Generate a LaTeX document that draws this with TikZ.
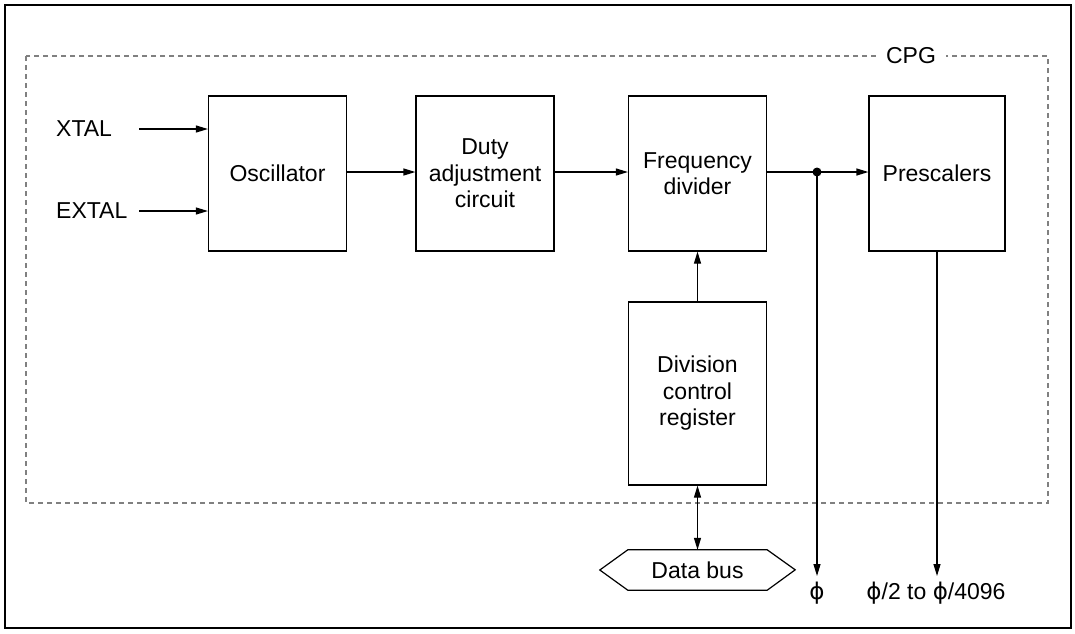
\documentclass[tikz,border=0pt]{standalone}
\usepackage{fontspec}
\setmainfont{Liberation Sans}
\newfontfamily\phifont{DejaVu Sans}
\usetikzlibrary{arrows.meta,shapes.geometric}
\newcommand{\ph}{{\phifont\char"03D5}}
\begin{document}
\begin{tikzpicture}[x=1pt,y=-1pt,
  blk/.style={draw,line width=1.2pt,minimum width=138pt,align=center,font=\fontsize{23}{26.5}\selectfont,inner sep=0pt},
  lbl/.style={font=\fontsize{23}{26.5}\selectfont,inner sep=0pt},
  arr/.style={line width=1.2pt,-{Triangle[length=12pt,width=7pt]}},
  darr/.style={line width=1.2pt,{Triangle[length=12pt,width=7pt]}-{Triangle[length=12pt,width=7pt]}}]
\useasboundingbox (0,0) rectangle (1075,633);
\fill[white] (0,0) rectangle (1075,633);
\draw[line width=2.2pt] (5,5) rectangle (1071,628);
\draw[gray,line width=1.5pt,dash pattern=on 5pt off 4pt] (26,56) rectangle (1048,503);
\node[lbl,fill=white,inner xsep=10pt,inner ysep=2pt] (cpg) at (911,56) {CPG};
% blocks
\node[blk,minimum height=155pt] (osc) at (277.5,173.5) {Oscillator};
\node[blk,minimum height=155pt] (duty) at (485,173.5) {Duty\\adjustment\\circuit};
\node[blk,minimum height=155pt] (freq) at (697.5,173.5) {Frequency\\divider};
\node[blk,minimum height=155pt,minimum width=136pt] (pre) at (937,173.5) {Prescalers};
\node[blk,minimum height=183pt] (div) at (697.5,393.5) {Division\\control\\register};
% inputs
\node[lbl,anchor=west] (xtal) at (56,129) {XTAL};
\node[lbl,anchor=west] (extal) at (56,211) {EXTAL};
\coordinate (xs) at (139,129);
\coordinate (es) at (139,211);
\draw[arr] (xs) -- (osc.west |- xs);
\draw[arr] (es) -- (osc.west |- es);
% chain
\draw[arr] (osc.east |- 0,172) -- (duty.west |- 0,172);
\draw[arr] (duty.east |- 0,172) -- (freq.west |- 0,172);
\coordinate (dot) at (817,172);
\draw[arr] (freq.east |- 0,172) -- (pre.west |- 0,172);
\fill (dot) circle (4.5pt);
% data bus
\node[minimum width=139pt,minimum height=40pt,font=\fontsize{23}{26.5}\selectfont,inner sep=0pt] (bus) at (697.5,570) {Data bus};
\draw[line width=1.2pt] (bus.west) ++(-28,0) -- (bus.north west) -- (bus.north east) -- ++(28,20) -- (bus.south east) -- (bus.south west) -- cycle;
\draw[arr] (div.north) -- (freq.south);
\draw[darr] (bus.north) -- (div.south);
% outputs
\node[lbl] (phi) at (817,593) {\ph};
\node[lbl] (phis) at (936,593) {\ph/2 to \ph/4096};
\draw[arr] (dot) -- (817,576);
\draw[arr] (pre.south) -- (937,576);
\end{tikzpicture}
\end{document}
